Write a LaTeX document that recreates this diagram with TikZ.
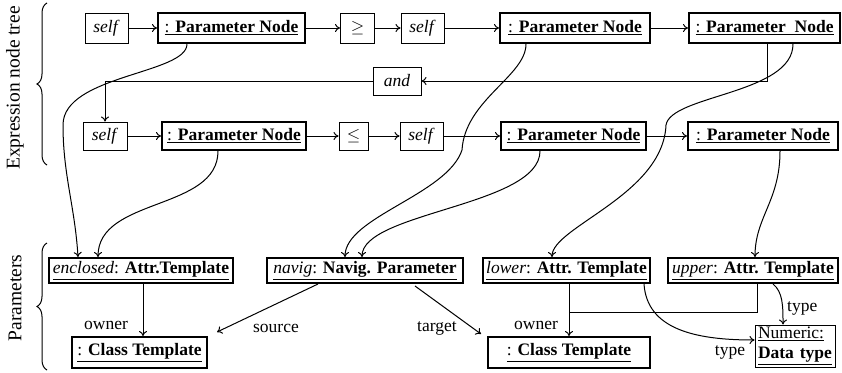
\documentclass[tikz,border=0pt]{standalone}
\usepackage{fontspec}
\setmainfont{Liberation Serif}
\usetikzlibrary{arrows.meta,decorations.pathreplacing,calc}
\begin{document}
\begin{tikzpicture}[x=1pt,y=-1pt,
 every node/.style={font=\fontsize{17.5}{20}\selectfont},
 bx/.style={draw, line width=1pt, inner sep=0pt, minimum height=28},
 tbx/.style={bx, line width=2pt},
 arr/.style={line width=1pt, -{To[length=5pt,width=8pt]}},
 ln/.style={line width=1pt},
 lbl/.style={inner sep=0pt},
 brc/.style={decorate, decoration={brace, amplitude=10pt}, line width=1pt}]
\useasboundingbox (0,0) rectangle (842,372);
% row 1
\node[bx, minimum width=43, minimum height=30] (s1) at (106.5,28) {\textit{self}};
\node[tbx, minimum width=147, minimum height=30] (p1) at (231.5,28) {\underline{: \textbf{Parameter Node}}};
\node[bx, minimum width=34, minimum height=30] (ge) at (357.5,28) {$\geq$};
\node[bx, minimum width=43, minimum height=30] (s2) at (422.5,28) {\textit{self}};
\node[tbx, minimum width=150, minimum height=30] (p2) at (575,28) {\underline{: \textbf{Parameter Node}}};
\node[tbx, minimum width=151, minimum height=30] (p3) at (764.5,28) {\underline{: \textbf{Parameter\ \ Node}}};
% and
\node[bx, minimum width=48, minimum height=28] (and) at (397,81) {\textit{and}};
% row 2
\node[bx, minimum width=44] (s3) at (105,136) {\textit{self}};
\node[tbx, minimum width=144] (p4) at (234,136) {\underline{: \textbf{Parameter Node}}};
\node[bx, minimum width=29] (le) at (353.5,136) {$\leq$};
\node[bx, minimum width=43] (s4) at (421.5,136) {\textit{self}};
\node[tbx, minimum width=145] (p5) at (573.5,136) {\underline{: \textbf{Parameter Node}}};
\node[tbx, minimum width=150] (p6) at (763,136) {\underline{: \textbf{Parameter Node}}};
% parameters
\node[tbx, minimum width=184, minimum height=25] (enc) at (141,270.5) {\underline{\textit{enclosed}: \textbf{Attr.Template}}};
\node[tbx, minimum width=196, minimum height=25] (nav) at (365,270.5) {\underline{\textit{navig}: \textbf{Navig. Parameter}}};
\node[tbx, minimum width=167, minimum height=25] (low) at (566.5,270.5) {\underline{\textit{lower}: \textbf{Attr. Template}}};
\node[tbx, minimum width=170, minimum height=25] (up) at (753,270.5) {\underline{\textit{upper}: \textbf{Attr. Template}}};
\node[tbx, minimum width=135, minimum height=31] (ct1) at (139.5,352.5) {\underline{: \textbf{Class Template}}};
\node[tbx, minimum width=162, minimum height=31] (ct2) at (569,352.5) {\underline{: \textbf{Class Template}}};
\node[bx, minimum width=80, minimum height=42, align=left, text width=74] (num) at (795,346) {\underline{Numeric:}\\\underline{\textbf{Data type}}};
% row arrows
\draw[arr] (s1.east) -- (p1.west);
\draw[arr] (p1.east) -- (ge.west);
\draw[arr] (ge.east) -- (s2.west);
\draw[arr] (s2.east) -- (p2.west);
\draw[arr] (p2.east) -- (p3.west);
\draw[arr] (s3.east) -- (p4.west);
\draw[arr] (p4.east) -- (le.west);
\draw[arr] (le.east) -- (s4.west);
\draw[arr] (s4.east) -- (p5.west);
\draw[arr] (p5.east) -- (p6.west);
\draw[arr] ($(p3.south)+(2.5,0)$) |- (and.east);
\draw[arr] (and.west) -| (s3.north);
% curves
\coordinate (w1) at (63,125);
\draw[arr] ($(p1.south)+(-44.5,0)$) .. controls +(0,30) and +(0,-50) .. (w1) .. controls +(0,50) and +(-3,-50) .. ($(enc.north)+(-63,0)$);
\draw[arr] ($(p4.south)+(-16,0)$) .. controls +(0,60) and +(0,-60) .. ($(enc.north)+(-43,0)$);
\coordinate (w2) at (462,150);
\draw[arr] ($(p2.south)+(-49,0)$) .. controls +(0,32) and +(3,-50) .. (w2) .. controls +(-15,45) and +(0,-40) .. ($(nav.north)+(-20,0)$);
\draw[arr] ($(p5.south)+(-33.5,0)$) .. controls +(0,55) and +(0,-45) .. ($(nav.north)+(-3,0)$);
\coordinate (w3) at (666,125);
\draw[arr] ($(p3.south)+(28.5,0)$) .. controls +(0,50) and +(5,-30) .. (w3) .. controls +(-3,70) and +(0,-30) .. ($(low.north)+(-14.5,0)$);
\draw[arr] ($(p6.south)+(17,0)$) .. controls +(0,50) and +(0,-40) .. ($(up.north)+(2,0)$);
% bottom connectors
\draw[arr] ($(enc.south)+(2,0)$) -- ($(ct1.north)+(3.5,0)$);
\draw[arr] ($(nav.south)+(-47,0)$) -- ($(ct1.north east)+(9,-4)$);
\draw[arr] ($(nav.south)+(50,2)$) -- ($(ct2.north west)+(-6,-2)$);
\draw[arr] ($(low.south)+(2.5,0)$) -- (ct2.north);
\coordinate (j) at (569,312);
\draw[ln] ($(up.south)+(4,0)$) |- (j);
\draw[arr] ($(low.south)+(77.5,0)$) .. controls +(3,45) and +(-60,0) .. ($(num.west)+(0,-6)$);
\draw[arr] ($(up.south)+(20,0)$) .. controls +(10,8) and +(0,-18) .. ($(num.north)+(-12,0)$);
% labels
\node[lbl] at (106,325) {owner};
\node[lbl] at (276,328) {source};
\node[lbl] at (437,328) {target};
\node[lbl] at (536,325) {owner};
\node[lbl, anchor=west] at (787,308) {type};
\node[lbl] at (730,352) {type};
% braces
\draw[brc] (47,165) -- (47,3);
\draw[brc] (47,370) -- (47,243);
\node[rotate=90, font=\fontsize{19.5}{22}\selectfont] (t1) at (15,88) {Expression node tree};
\node[rotate=90, font=\fontsize{19.5}{22}\selectfont] (t2) at (15,298) {Parameters};
\end{tikzpicture}
\end{document}
